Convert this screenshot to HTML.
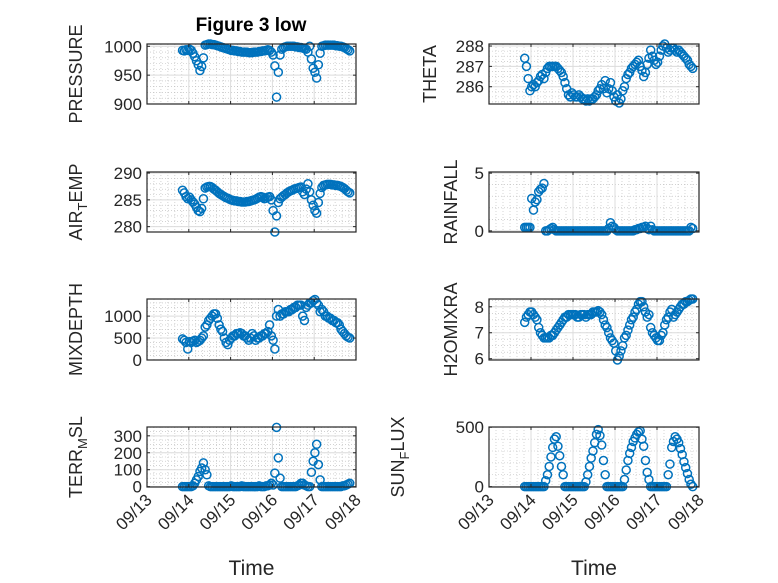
<!DOCTYPE html>
<html><head><meta charset="utf-8"><style>
body{margin:0;background:#fff;}
svg{display:block;font-family:"Liberation Sans",sans-serif;}
</style></head><body>
<svg id="fig" width="778" height="583" viewBox="0 0 778 583" xmlns="http://www.w3.org/2000/svg">
<rect x="0" y="0" width="778" height="583" fill="#fff"/>
<text x="251" y="31" text-anchor="middle" font-size="19" font-weight="bold" fill="#000">Figure 3 low</text>
</svg>
<script>
const tStart = 13.85, tEnd = 17.85;
const xTickLabels = ["09/13","09/14","09/15","09/16","09/17","09/18"];
const xTickDays = [13,14,15,16,17,18];

const pressureValues = [993,992,994,993,995,993,988,982,975,968,958,965,
980,1002,1003,1004,1004,1003,1003,1002,1001,1000,999,998,
997,996,995,994,993,993,992,992,991,991,990,990,
990,990,989,989,989,990,990,990,991,991,992,992,
993,994,993,990,985,966,912,955,985,995,998,999,
1000,1000,1000,1000,1000,999,999,998,998,997,996,995,
990,1000,978,962,955,945,968,988,1000,1001,1002,1002,
1002,1002,1002,1002,1001,1001,1000,1000,999,998,996,994,992];
const airTempValues = [286.8,286.3,285.6,285.2,285.5,285.0,284.6,284.2,283.6,283.0,282.8,283.4,
285.2,287.2,287.4,287.5,287.5,287.3,287.0,286.8,286.5,286.2,286.0,285.8,
285.6,285.4,285.3,285.1,285.0,284.9,284.8,284.8,284.7,284.7,284.6,284.6,
284.6,284.7,284.7,284.8,284.9,285.0,285.1,285.3,285.5,285.6,285.5,285.2,
285.3,285.5,285.6,285.0,283.0,279.0,282.0,284.5,285.2,285.5,285.8,286.0,
286.3,286.5,286.7,286.8,287.0,287.1,287.2,287.3,287.4,286.5,286.0,287.0,
288.0,286.5,285.0,284.0,283.0,282.5,284.5,286.2,287.3,287.7,287.8,287.9,
287.9,287.9,287.8,287.8,287.7,287.7,287.6,287.5,287.3,287.1,286.8,286.5,286.3];
const thetaValues = [287.4,287.0,286.4,285.8,286.0,286.1,286.0,286.2,286.3,286.5,286.6,286.4,
286.7,286.9,287.0,287.0,287.0,287.0,287.0,286.9,286.8,286.7,286.5,286.2,
285.9,285.6,285.5,285.7,285.6,285.5,285.5,285.6,285.5,285.4,285.4,285.3,
285.4,285.3,285.4,285.4,285.5,285.6,285.8,285.9,286.1,285.9,286.3,285.7,
285.9,286.2,285.8,285.5,285.3,285.6,285.2,285.4,285.8,286.0,286.4,286.6,
286.7,286.9,287.0,287.1,287.2,287.3,287.0,286.8,286.5,286.7,287.1,287.4,
287.8,287.5,287.3,287.1,287.2,287.5,287.8,288.0,288.1,287.9,287.7,287.8,
287.9,287.9,287.8,287.7,287.8,287.7,287.6,287.5,287.4,287.3,287.1,287.0,286.9];
const rainfallValues = [0.3,0.3,0.3,0.3,2.8,1.8,2.5,2.7,3.4,3.6,3.7,4.1,
0,0,0.1,0.2,0.3,0.1,0,0,0,0,0,0,
0,0,0,0,0,0,0,0,0,0,0,0,
0,0,0,0,0,0,0,0,0,0,0,0,
0.2,0.7,0.4,0.3,0.1,0,0,0,0,0,0,0,
0,0,0,0.1,0.1,0.2,0.2,0.3,0.3,0.4,0.2,0.1,
0.4,0.1,0,0,0,0,0,0,0,0,0,0,
0,0,0,0,0,0,0,0,0,0,0,0.3,0.2];
const mixDepthValues = [480,450,400,250,420,400,430,450,400,420,450,500,
550,750,800,900,950,1000,1050,1050,950,800,700,650,
500,400,350,450,500,550,550,600,600,620,600,550,
550,500,450,500,600,550,450,500,500,550,550,600,
600,650,800,550,450,250,1000,1150,1000,1050,1050,1100,
1100,1100,1150,1150,1200,1200,1250,1250,1250,1000,900,1200,
1250,1300,1300,1350,1380,1300,1250,1100,1150,1100,1000,1000,
950,950,900,900,850,850,800,700,650,600,550,520,500];
const h2oValues = [7.4,7.6,7.7,7.8,7.8,7.7,7.6,7.5,7.2,7.0,6.9,6.8,
6.8,6.8,6.8,6.9,6.9,7.0,7.1,7.2,7.3,7.4,7.5,7.6,
7.6,7.7,7.7,7.7,7.7,7.7,7.6,7.6,7.7,7.7,7.7,7.6,
7.7,7.7,7.7,7.8,7.8,7.8,7.85,7.8,7.7,7.5,7.3,7.2,
7.0,6.8,6.7,6.6,6.3,5.95,6.1,6.3,6.5,6.8,6.9,7.1,
7.3,7.5,7.6,7.8,7.9,8.1,8.2,8.2,8.0,7.8,7.6,7.7,
7.2,7.0,6.9,6.8,6.7,6.7,6.9,7.0,7.3,7.5,7.6,7.8,
7.9,7.6,7.7,7.8,7.9,8.0,8.1,8.1,8.2,8.2,8.25,8.3,8.3];
const terrValues = [0,0,0,0,0,0,5,20,40,60,90,110,
140,100,70,5,0,0,0,0,0,0,0,0,
0,0,0,0,5,0,0,0,0,0,5,0,
0,0,0,0,0,0,0,0,5,0,0,0,
5,5,10,20,10,80,350,170,50,0,0,0,
0,0,0,0,0,0,5,10,20,20,10,5,
0,0,85,150,200,250,130,40,0,0,0,0,
0,0,0,0,0,0,0,0,5,5,10,15,20];
const sunValues = [0,0,0,0,0,0,0,0,0,0,0,0,
50,100,170,250,330,400,420,340,260,170,100,0,
0,0,0,0,0,0,0,0,0,0,0,40,
100,170,240,300,370,440,480,430,350,220,100,0,
0,0,0,0,0,0,0,0,0,60,140,220,
280,330,380,410,440,460,470,400,340,220,120,60,
0,0,0,0,0,0,0,0,0,0,100,190,
330,380,420,400,370,320,270,210,160,110,60,20,0];

const pressureTicks=[900,950,1000], airTempTicks=[280,285,290], thetaTicks=[286,287,288],
rainTicks=[0,5], mixTicks=[0,500,1000], h2oTicks=[6,7,8], terrTicks=[0,100,200,300], sunTicks=[0,500];

const panels = [
 {name:'pressure', label:['PRESSURE'], vals:pressureValues, ticks:pressureTicks, minor:10, ylim:[900,1004], x0:147,x1:356,y0:44,y1:104, lx:82},
 {name:'theta', label:['THETA'], vals:thetaValues, ticks:thetaTicks, minor:0.25, ylim:[285.15,288.1], x0:489,x1:699,y0:44,y1:104, lx:436},
 {name:'air-temp', label:['AIR','T','EMP'], vals:airTempValues, ticks:airTempTicks, minor:1, ylim:[279,290.2], x0:147,x1:356,y0:172,y1:232, lx:82},
 {name:'rainfall', label:['RAINFALL'], vals:rainfallValues, ticks:rainTicks, minor:1, ylim:[-0.1,5.1], x0:489,x1:699,y0:172,y1:232, lx:457},
 {name:'mixdepth', label:['MIXDEPTH'], vals:mixDepthValues, ticks:mixTicks, minor:100, ylim:[0,1390], x0:147,x1:356,y0:299,y1:360, lx:82},
 {name:'h2omixra', label:['H2OMIXRA'], vals:h2oValues, ticks:h2oTicks, minor:0.25, ylim:[5.95,8.3], x0:489,x1:699,y0:299,y1:360, lx:457},
 {name:'terr-msl', label:['TERR','M','SL'], vals:terrValues, ticks:terrTicks, minor:25, ylim:[-2,352], x0:147,x1:356,y0:427,y1:487, lx:82, xt:true},
 {name:'sun-flux', label:['SUN','F','LUX'], vals:sunValues, ticks:sunTicks, minor:100, ylim:[-3,502], x0:489,x1:699,y0:427,y1:487, lx:404, xt:true}
];
const NS='http://www.w3.org/2000/svg';
const svg=document.getElementById('fig');
function mk(tag,attrs,parent){const e=document.createElementNS(NS,tag);for(const k in attrs)e.setAttribute(k,attrs[k]);(parent||svg).appendChild(e);return e;}

panels.forEach(p=>{
  const g=mk('g',{});
  
  
  const xs=d=>p.x0+(d-13)/5*(p.x1-p.x0);
  const ys=v=>p.y1-(v-p.ylim[0])/(p.ylim[1]-p.ylim[0])*(p.y1-p.y0);
  mk('rect',{x:p.x0,y:p.y0,width:p.x1-p.x0,height:p.y1-p.y0,fill:'#fff'},g);
  for(let d=13;d<18;d++)for(let k=1;k<6;k++){const x=xs(d+k/6);
    mk('line',{x1:x,x2:x,y1:p.y0,y2:p.y1,stroke:'#b8b8b8','stroke-width':0.6,'stroke-dasharray':'1,2'},g);}
  const s=Math.ceil(p.ylim[0]/p.minor);
  for(let v=s*p.minor;v<=p.ylim[1];v+=p.minor){const y=ys(v);
    mk('line',{x1:p.x0,x2:p.x1,y1:y,y2:y,stroke:'#b8b8b8','stroke-width':0.6,'stroke-dasharray':'1,2'},g);}
  xTickDays.forEach(d=>{const x=xs(d);mk('line',{x1:x,x2:x,y1:p.y0,y2:p.y1,stroke:'#dcdcdc','stroke-width':1},g);});
  p.ticks.forEach(v=>{const y=ys(v);mk('line',{x1:p.x0,x2:p.x1,y1:y,y2:y,stroke:'#dcdcdc','stroke-width':1},g);});
  const n=p.vals.length;
  p.vals.forEach((v,i)=>{
    const t=tStart+i*(tEnd-tStart)/(n-1);
    const c=mk('circle',{cx:xs(t),cy:ys(v),r:4,fill:'none',stroke:'#0072BD','stroke-width':1.5},g);
    
    
  });
  mk('rect',{x:p.x0,y:p.y0,width:p.x1-p.x0,height:p.y1-p.y0,fill:'none',stroke:'#262626','stroke-width':1.2},g);
  xTickDays.forEach(d=>{const x=xs(d);
    mk('line',{x1:x,x2:x,y1:p.y1,y2:p.y1-3,stroke:'#262626'},g);
    mk('line',{x1:x,x2:x,y1:p.y0,y2:p.y0+3,stroke:'#262626'},g);});
  p.ticks.forEach(v=>{const y=ys(v);
    mk('line',{x1:p.x0,x2:p.x0+3,y1:y,y2:y,stroke:'#262626'},g);
    mk('line',{x1:p.x1,x2:p.x1-3,y1:y,y2:y,stroke:'#262626'},g);
    const t=mk('text',{x:p.x0-5,y:y+6,'text-anchor':'end','font-size':17,fill:'#262626'},g);
    t.textContent=String(v);
    
    
  });
  const cy=(p.y0+p.y1)/2;
  const yl=mk('text',{x:p.lx,y:cy,'text-anchor':'middle','font-size':18,fill:'#262626',transform:'rotate(-90 '+p.lx+' '+cy+')'},g);
  
  
  p.label.forEach((part,j)=>{const ts=mk('tspan',{},yl);ts.textContent=part;
    if(j===1){ts.setAttribute('font-size','13');ts.setAttribute('dy','5');}
    if(j===2){ts.setAttribute('dy','-5');}});
  if(p.xt){
    xTickDays.forEach((d,j)=>{const x=xs(d)+6,y=p.y1+14;
      const t=mk('text',{x:x,y:y,'text-anchor':'end','font-size':17,fill:'#262626',transform:'rotate(-45 '+x+' '+y+')'},g);
      t.textContent=xTickLabels[j];
      
      
    });
    const xt=mk('text',{x:(p.x0+p.x1)/2,y:575,'text-anchor':'middle','font-size':21,fill:'#262626'},g);
    xt.textContent='Time';
    
    
  }
});
</script>
</body></html>
